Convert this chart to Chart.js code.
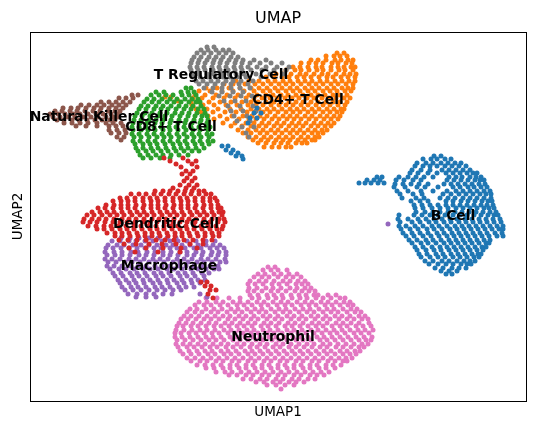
<!DOCTYPE html>
<html>
<head>
<meta charset="utf-8">
<script src="https://cdn.jsdelivr.net/npm/chart.js@4.4.1/dist/chart.umd.min.js"></script>
<style>
  html, body { margin: 0; padding: 0; background: #fff; }
</style>
</head>
<body>
<canvas id="umapChart" width="535" height="431"></canvas>
<script>
// cell types, in legend order
const cellTypes = ['B Cell', 'CD4+ T Cell', 'CD8+ T Cell', 'Dendritic Cell', 'Macrophage', 'Natural Killer Cell', 'Neutrophil', 'T Regulatory Cell'];

// where each cluster label sits (UMAP1, UMAP2)
const labelX = [453, 298, 171, 166, 169, 99, 273, 221];
const labelY = [216, 100, 127, 224, 266, 117, 337, 75];

const bCellRows = [
  [156, 434,441],
  [159, 423,431,437,445,451],
  [163, 417,426,433,441,448,455,461],
  [166, 415,423,430,437,445,452,459,466],
  [170, 412,421,430,442,449,456,463,470],
  [173, 410,418,428,437,446,453,460,467,473,477],
  [177, 399,408,416,424,433,449,456,462,470,476,481],
  [180, 396,404,413,421,447,454,461,468,475,480,484],
  [184, 395,403,411,419,428,444,451,458,465,472,479,485],
  [187, 394,405,417,425,438,453,460,468,474,481,487],
  [191, 397,408,421,433,447,456,463,470,477,484,490],
  [194, 400,413,422,443,451,459,466,473,480,486,491],
  [198, 402,416,424,440,448,455,463,470,477,484,491],
  [201, 411,420,428,446,453,461,468,475,482,488,492],
  [205, 414,422,430,438,446,453,460,467,474,481,487,493],
  [208, 415,423,432,440,448,456,463,470,477,484,489,494],
  [212, 416,425,433,440,448,455,462,469,476,483,490,496],
  [215, 399,414,422,430,438,445,453,460,467,474,481,488,494,498],
  [219, 398,408,418,426,434,442,450,457,465,472,479,486,493,500],
  [222, 400,412,420,429,436,444,451,459,466,473,480,487,494,501],
  [226, 399,406,415,423,432,439,447,455,462,469,476,483,490,497,503],
  [229, 401,410,418,427,434,442,450,457,464,471,478,485,492,499,503],
  [233, 403,412,420,428,437,444,452,459,466,473,480,487,495,502],
  [236, 406,414,423,431,439,447,454,461,468,475,482,489,497,503],
  [240, 409,417,426,433,441,449,456,463,470,477,484,490],
  [243, 412,421,428,436,444,451,458,465,472,479,486,489],
  [247, 415,423,432,440,447,454,461,468,475,482,486],
  [250, 417,426,434,441,449,456,463,470,477,483],
  [254, 419,427,436,443,451,458,465,472,478,481],
  [257, 421,430,438,445,453,460,467,474,479],
  [261, 425,433,442,449,457,464,470,475],
  [264, 429,438,446,453,461,467,471],
  [268, 435,443,452,459,466],
  [271, 441,449,457],
  [274, 446,452],
  [177, 377,382],
  [180, 367,374,380],
  [183, 359,365,371,378,384],
  [146, 222,228],
  [150, 226,233],
  [153, 231,238],
  [156, 236,242],
  [159, 243],
  [108, 257],
  [113, 254,261],
  [118, 250,257],
  [123, 248]
];

const cd4Rows = [
  [53, 337,344],
  [56, 326,334,340,347],
  [60, 311,318,326,335,341,348,353],
  [63, 301,309,316,323,332,338,346,352],
  [67, 293,300,308,316,322,331,338,344,351,355],
  [70, 286,295,301,309,317,323,331,339,345,353],
  [74, 276,283,291,300,306,314,322,328,336,344,350,356],
  [77, 266,274,282,289,297,304,311,319,327,333,341,348,355],
  [81, 236,249,259,268,275,283,290,298,305,312,320,327,335,342,349,355],
  [84, 224,233,245,255,263,271,279,286,293,301,309,316,323,331,338,346,353],
  [88, 206,217,229,240,251,259,267,275,282,290,297,305,312,319,327,334,342,348,353],
  [91, 199,210,222,233,244,254,263,270,278,286,293,300,308,315,323,330,337,345,351],
  [95, 195,205,216,227,238,249,257,266,273,281,288,296,303,311,318,325,333,340,347],
  [98, 193,202,213,224,235,246,254,262,270,277,285,292,299,307,314,322,329,336,344,350],
  [102, 191,199,209,220,231,242,251,258,266,274,281,289,296,303,311,318,326,333,340,347],
  [105, 192,203,214,226,237,248,256,263,271,279,286,293,301,308,316,323,330,338,345],
  [109, 196,207,218,230,241,251,259,267,274,282,290,297,304,312,319,327,334,341,344],
  [112, 201,213,225,236,247,255,263,270,278,286,293,300,308,315,323,330,337,342],
  [116, 208,220,232,243,252,260,267,275,283,290,297,305,312,320,327,334,340],
  [119, 214,227,239,249,256,264,272,279,287,294,301,309,316,324,331,338],
  [123, 223,235,246,254,262,269,277,284,292,299,306,314,321,328,334],
  [126, 231,242,251,259,266,274,281,289,296,303,311,318,325,331],
  [130, 238,248,256,263,271,278,286,293,300,308,315,322,327],
  [133, 243,251,260,267,275,282,290,297,304,312,318,323],
  [137, 248,256,264,271,279,286,293,301,308,315,319],
  [140, 253,261,268,276,283,290,298,305,312,315],
  [143, 258,266,274,281,288,296,302,307],
  [147, 264,272,279,286,291],
  [97, 165,171],
  [101, 178]
];

const cd8Rows = [
  [88, 186,191],
  [92, 156,164,181,188,194],
  [95, 151,159,166,173,182,189,196],
  [99, 147,154,162,170,177,185,192,198],
  [102, 144,152,159,167,174,181,189,196,200],
  [106, 141,148,156,163,171,179,186,193,201],
  [109, 139,146,154,161,168,176,184,191,198,204],
  [113, 137,145,152,160,167,175,182,189,197,205],
  [116, 135,142,150,158,165,172,180,188,195,202,207],
  [120, 134,141,149,156,163,171,179,186,194,201,208],
  [123, 133,140,147,155,162,170,178,185,192,200,207],
  [127, 132,139,146,154,161,169,176,184,191,199,206,210],
  [130, 133,141,148,155,163,170,178,186,193,200,208],
  [134, 132,139,147,154,162,169,177,184,192,199,207,212],
  [137, 134,141,149,157,164,171,179,187,194,201,209],
  [141, 133,140,148,155,163,170,178,185,193,200,208,213],
  [144, 135,143,150,157,165,173,180,187,195,202,209],
  [148, 136,143,151,158,166,174,181,188,196,204],
  [151, 138,146,153,161,168,176,184,192,199],
  [155, 140,148,156,163,171,179,188],
  [158, 143,151,160,170]
];

const dendriticRows = [
  [158, 164,183],
  [161, 170,188,196],
  [164, 176,192],
  [167, 181,197],
  [171, 186,193],
  [174, 182,190],
  [178, 187,195],
  [181, 184,192],
  [185, 180,189,197],
  [188, 173,186,194],
  [191, 155,163,170,178,185,192,199,204],
  [194, 131,139,146,154,161,169,176,184,191,199,206,211],
  [198, 120,127,135,143,150,157,165,173,180,187,195,203,210,215],
  [201, 113,121,128,135,143,151,158,165,173,181,188,195,203,210,217],
  [205, 106,114,121,128,136,144,151,158,166,174,181,188,196,204,211,218],
  [208, 98,105,113,121,128,135,143,151,158,165,173,181,188,195,203,211,218,221],
  [212, 92,100,107,114,122,130,137,144,152,160,167,174,182,190,197,204,212,219,223],
  [215, 87,94,102,110,117,124,132,140,147,154,162,170,177,184,192,200,207,214,222],
  [219, 84,92,99,106,114,122,129,136,144,152,159,166,174,182,189,196,204,212,219,224],
  [222, 83,90,97,105,113,120,127,135,143,150,157,165,173,180,187,195,203,210,218,225],
  [226, 88,96,104,111,118,126,134,141,148,156,164,171,178,186,194,201,208,216,223],
  [229, 97,104,112,120,127,134,142,150,157,164,172,180,187,194,202,210,217,222],
  [233, 107,115,122,129,137,145,152,159,167,175,182,189,197,205,212,219],
  [236, 115,122,130,138,145,152,160,168,175,182,190,198,205,213,219],
  [240, 119,128,137,146,156,165,174,184,193,203,212],
  [244, 124,136,149,162,176,190,203],
  [248, 129,146,163,181,197],
  [252, 135,158,180],
  [282, 201,207],
  [286, 205,211],
  [290, 210,216],
  [294, 208],
  [298, 213]
];

const macrophageRows = [
  [238, 121,130,139,149,158,167,176],
  [241, 112,120,129,136,145,153,162,170,178,187,196,206,215],
  [245, 108,117,124,133,141,149,157,166,173,182,190,198,206,213,220],
  [248, 106,113,121,129,137,145,154,161,170,177,185,194,201,210,217,224],
  [252, 105,114,122,131,138,147,155,163,171,180,187,196,203,212,219,226],
  [255, 107,115,122,130,139,146,154,163,170,178,187,194,202,211,218,226],
  [259, 105,112,120,129,136,144,153,160,168,177,184,192,201,208,216,225],
  [262, 108,116,125,132,140,149,156,164,173,180,188,197,204,212,220,226],
  [266, 107,114,122,131,138,146,155,162,170,179,186,194,203,210,218],
  [269, 110,119,126,134,143,150,158,167,174,182,191,198,206,214,219],
  [273, 113,121,130,137,145,154,161,169,178,185,193,202,209],
  [276, 115,123,132,139,147,156,163,171,180,187,195,204],
  [280, 118,126,134,143,150,158,167,174,182,191,198,205],
  [283, 120,129,136,144,153,160,168,177,184,192,200],
  [287, 122,131,138,146,155,162,170,179,186,194],
  [290, 125,133,141,149,157,165,173,181],
  [294, 128,137,146,154,163,172,200],
  [297, 136,146,156,207],
  [224, 388]
];

const nkRows = [
  [95, 132,138],
  [98, 119,126,133],
  [102, 101,109,116,123,130],
  [105, 81,89,97,104,112,119,126],
  [108, 63,71,78,86,94,101,109,116,123],
  [111, 55,62,70,77,85,93,100,108,115,120],
  [114, 50,58,65,73,80,88,96,103,111,118],
  [117, 53,60,68,75,83,91,98,106,113,118],
  [120, 57,64,72,79,87,95,102,110,115],
  [123, 64,72,80,88,97,106,113,121],
  [126, 76,86,97,109,116,123],
  [130, 109,117,125],
  [133, 111,119,126],
  [137, 117,124],
  [140, 121]
];

const neutrophilRows = [
  [267, 268,275],
  [270, 263,271,278,287],
  [274, 258,265,274,281,289,297],
  [277, 254,262,269,278,286,293,301],
  [281, 250,259,266,274,283,290,298,305],
  [284, 248,255,263,272,279,287,296,302,308],
  [288, 249,257,266,273,281,290,297,305,311],
  [291, 248,254,262,271,278,286,295,302,309,315],
  [295, 250,258,267,274,282,291,299,306,314,318,328,336],
  [298, 206,217,229,240,252,259,268,276,283,292,300,307,316,323,331,340,345],
  [302, 199,207,216,223,233,240,248,257,264,273,281,288,297,305,312,321,328,336,344,350],
  [305, 195,204,211,220,228,237,244,252,261,268,277,285,292,301,309,316,325,332,340,348,353],
  [309, 190,197,206,214,222,231,238,247,255,262,271,279,286,295,303,310,319,327,334,343,351,357],
  [312, 187,195,202,211,218,227,235,242,251,259,266,275,283,290,299,307,314,323,331,338,347,355,361],
  [316, 184,191,199,207,215,223,230,239,246,254,263,270,278,287,294,302,311,318,326,335,342,350,359,365],
  [319, 181,188,196,204,211,219,228,235,243,251,258,267,275,282,291,299,306,315,323,330,339,347,354,362,368],
  [323, 179,186,193,201,209,216,225,232,240,248,255,264,271,279,288,295,303,312,319,327,336,343,351,359,369],
  [326, 177,183,191,198,206,214,221,229,237,244,252,261,268,276,285,292,300,308,316,323,332,340,347,356,363,371],
  [330, 176,184,192,200,207,215,224,231,239,247,254,263,270,278,287,294,302,311,318,326,334,342,350,358,365,373],
  [333, 175,181,189,196,204,212,219,228,235,243,251,258,267,274,282,291,298,306,314,322,330,337,345,354,361,369],
  [337, 175,182,190,198,206,213,221,230,237,245,253,260,269,276,284,293,300,308,317,324,332,340,348,356,364,372],
  [340, 177,185,193,201,209,216,224,233,240,248,256,263,272,279,287,296,303,311,320,327,335,343,351,359,366,371],
  [344, 176,183,190,198,205,213,221,228,237,244,252,260,267,276,283,291,299,307,314,323,330,338,346,354,362,368],
  [347, 178,187,194,202,210,217,226,233,241,250,257,265,273,280,289,296,304,312,320,327,336,343,351,359,364],
  [351, 180,189,197,205,212,221,228,236,245,252,260,268,276,284,292,300,308,316,324,331,340,347,355,360],
  [354, 183,191,199,208,215,224,231,239,248,255,263,271,279,287,295,303,311,319,327,335,343,350,356],
  [358, 187,195,203,211,219,227,235,243,251,259,267,275,283,291,299,307,315,323,331,339,346,352],
  [361, 191,200,207,216,223,232,239,248,255,264,271,280,287,296,303,312,319,328,335,343,347],
  [365, 197,205,213,221,230,237,246,253,262,269,278,285,294,301,310,317,326,333,341],
  [368, 206,214,223,230,239,246,255,262,271,278,287,294,303,310,319,326,335],
  [372, 216,225,232,241,249,257,265,273,281,289,297,305,313,321,329],
  [375, 229,237,246,253,262,269,278,285,294,301,310,317,324],
  [379, 243,251,260,267,276,283,292,299,308,315],
  [382, 256,264,273,280,289,296,304],
  [385, 267,276,285,294],
  [389, 281]
];

const tregRows = [
  [47, 207,214],
  [50, 201,208,216,223,229],
  [53, 197,204,211,219,226,233],
  [57, 194,201,209,216,223,231,238],
  [60, 192,199,207,214,221,229,236,243,254,266],
  [63, 191,198,205,213,220,227,235,242,250,260,271,282],
  [67, 190,197,204,212,219,226,234,241,248,257,266,277,289],
  [70, 191,198,205,213,220,228,235,242,251,262,274,286],
  [74, 192,199,207,214,222,229,236,244,256,270,283],
  [77, 193,200,208,215,223,230,237,246,261],
  [81, 196,203,211,218,226,233,241,253],
  [84, 199,207,215,223,231,239,248],
  [88, 204,213,222,231,240,250],
  [92, 212,222,233,243],
  [96, 219,230,241,252],
  [101, 224,235,246],
  [106, 228,240,253],
  [111, 231,243,256],
  [116, 234,247],
  [121, 237,250],
  [127, 242,254],
  [133, 246],
  [137, 249]
];

const clusterRows = [bCellRows, cd4Rows, cd8Rows, dendriticRows, macrophageRows, nkRows, neutrophilRows, tregRows];

// matplotlib tab10, and which cluster ends up on top
const clusterColors = ['#1f77b4', '#ff7f0e', '#2ca02c', '#d62728', '#9467bd', '#8c564b', '#e377c2', '#7f7f7f'];
const drawOrder = [4, 6, 3, 0, 1, 2, 7, 5];

function rowsToPoints(rows) {
  const points = [];
  rows.forEach(row => {
    const y = row[0];
    row.slice(1).forEach(x => points.push({ x: x, y: y }));
  });
  return points;
}

// full box around the plot, like matplotlib spines
const frame = {
  id: 'frame',
  afterDatasetsDraw(chart) {
    const { ctx, chartArea } = chart;
    ctx.save();
    ctx.strokeStyle = '#000';
    ctx.lineWidth = 1;
    ctx.strokeRect(Math.round(chartArea.left) + 0.5, Math.round(chartArea.top) + 0.5,
      Math.round(chartArea.right - chartArea.left), Math.round(chartArea.bottom - chartArea.top));
    ctx.restore();
  }
};

// cluster names written on the data
const clusterLabels = {
  id: 'clusterLabels',
  afterDatasetsDraw(chart) {
    const { ctx, scales } = chart;
    ctx.save();
    ctx.font = 'bold 13.9px "DejaVu Sans"';
    ctx.fillStyle = '#000';
    ctx.textAlign = 'center';
    ctx.textBaseline = 'middle';
    cellTypes.forEach((name, i) => {
      ctx.fillText(name, scales.x.getPixelForValue(labelX[i]), scales.y.getPixelForValue(labelY[i]));
    });
    ctx.restore();
  }
};

const axisFont = { family: 'DejaVu Sans', size: 13.5 };

new Chart(document.getElementById('umapChart'), {
  type: 'scatter',
  data: {
    datasets: cellTypes.map((name, i) => ({
      label: name,
      data: rowsToPoints(clusterRows[i]),
      backgroundColor: clusterColors[i],
      borderWidth: 0,
      pointRadius: 2.5,
      order: drawOrder[i]
    }))
  },
  options: {
    responsive: false,
    animation: false,
    devicePixelRatio: 1,
    layout: { padding: { right: 9 } },
    plugins: {
      legend: { display: false },
      tooltip: { enabled: false },
      title: {
        display: true,
        text: 'UMAP',
        fullSize: false,
        color: '#000',
        font: { family: 'DejaVu Sans', size: 16, weight: 'normal' },
        padding: { top: 9.4, bottom: 3.4 }
      }
    },
    scales: {
      x: {
        type: 'linear',
        min: 30,
        max: 526,
        ticks: { display: false },
        grid: { display: false },
        border: { display: false },
        title: { display: true, text: 'UMAP1', color: '#000', font: axisFont, padding: { top: 0, bottom: 10 } },
        afterFit(scale) { scale.height = 30; }
      },
      y: {
        type: 'linear',
        reverse: true,
        min: 32,
        max: 401,
        ticks: { display: false },
        grid: { display: false },
        border: { display: false },
        title: { display: true, text: 'UMAP2', color: '#000', font: axisFont, padding: { top: 10, bottom: 0 } },
        afterFit(scale) { scale.width = 30; }
      }
    }
  },
  plugins: [frame, clusterLabels]
});
</script>
</body>
</html>
